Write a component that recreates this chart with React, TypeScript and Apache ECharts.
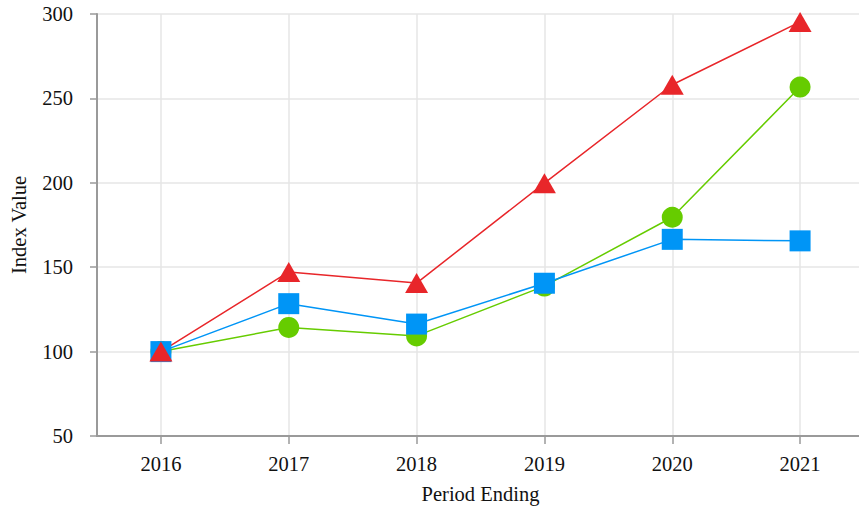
import React, { useEffect, useRef } from "react";
import * as echarts from "echarts";

const years = [2016, 2017, 2018, 2019, 2020, 2021];
const greenValues = [100, 114.3, 109.3, 138.8, 179.6, 256.7];
const blueValues = [100, 128.4, 116.3, 140.5, 166.5, 165.6];
const redValues = [100, 147.2, 140.6, 199.8, 258.1, 295.3];
const yTicks = [50, 100, 150, 200, 250, 300];

const FONT = '"Liberation Serif", "Times New Roman", serif';

function pairs(vals: number[]) {
  return years.map((y, i) => [y, vals[i]]);
}

export default function App() {
  const ref = useRef<HTMLDivElement>(null);
  useEffect(() => {
    if (!ref.current) return;
    const chart = echarts.init(ref.current, undefined, { renderer: "svg" });
    const lineSeries = (name: string, vals: number[], color: string, symbol: string, size: any) => ({
      name,
      type: "line",
      data: pairs(vals),
      symbol,
      symbolSize: size,
      showAllSymbol: true,
      lineStyle: { color, width: 1.5 },
      itemStyle: { color, opacity: 1 },
      emphasis: { disabled: true },
    });
    chart.setOption({
      animation: false,
      backgroundColor: "#ffffff",
      textStyle: { fontFamily: FONT },
      grid: {
        left: 97,
        right: -5,
        top: 14,
        bottom: 72,
        containLabel: false,
        outerBoundsMode: "none",
      },
      xAxis: {
        type: "value",
        min: 2015.5,
        max: 2021.5,
        name: "Period Ending",
        nameLocation: "middle",
        nameGap: 47,
        nameTextStyle: { fontFamily: FONT, fontSize: 20.5, color: "#111" },
        axisLine: { show: true, lineStyle: { color: "#9a9a9a", width: 2 } },
        axisTick: { show: true, length: 8, customValues: years, lineStyle: { color: "#9a9a9a", width: 1.5 } },
        axisLabel: {
          customValues: years,
          formatter: (v: number) => String(v),
          fontFamily: FONT,
          fontSize: 20.5,
          color: "#111",
          margin: 17,
        },
        splitLine: { show: true, lineStyle: { color: "#e6e6e6", width: 1.5 } },
      },
      yAxis: {
        type: "value",
        min: 50,
        max: 300,
        interval: 50,
        name: "Index Value",
        nameLocation: "middle",
        nameGap: 68,
        nameTextStyle: { fontFamily: FONT, fontSize: 20.5, color: "#111" },
        axisLine: { show: true, lineStyle: { color: "#9a9a9a", width: 2 } },
        axisTick: { show: true, length: 7, lineStyle: { color: "#9a9a9a", width: 1.5 } },
        axisLabel: {
          fontFamily: FONT,
          fontSize: 20.5,
          color: "#111",
          margin: 24,
          formatter: (v: number) => (yTicks.includes(v) ? String(v) : ""),
        },
        splitLine: { show: true, lineStyle: { color: "#e6e6e6", width: 1.5 } },
      },
      series: [
        lineSeries("Green", greenValues, "#66cc00", "circle", 21),
        lineSeries("Blue", blueValues, "#0095f6", "rect", 21),
        lineSeries("Red", redValues, "#e8262a", "triangle", [23, 20]),
      ],
    });
    return () => chart.dispose();
  }, []);
  return (
    <div
      ref={ref}
      style={{ position: "fixed", left: 0, top: 0, width: 859, height: 508 }}
    />
  );
}
